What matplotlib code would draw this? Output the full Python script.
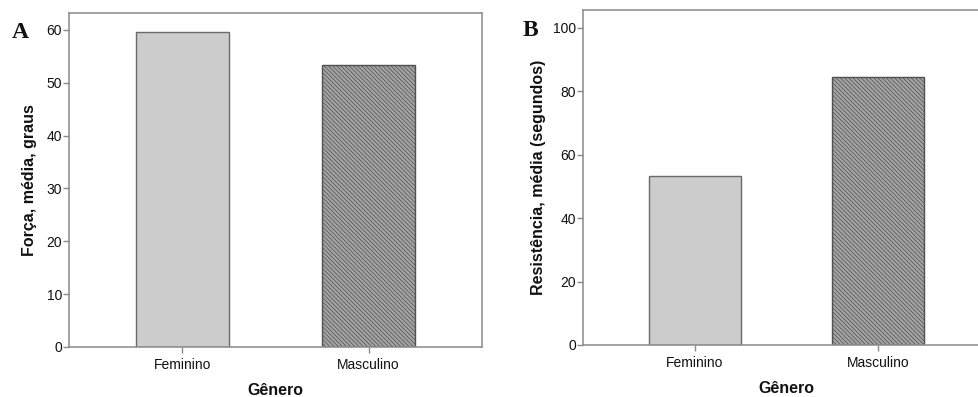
import matplotlib
matplotlib.use("Agg")
import matplotlib.pyplot as plt

plt.rcParams['font.family'] = ['Liberation Sans', 'DejaVu Sans']
plt.rcParams['hatch.linewidth'] = 0.5

generos = ["Feminino", "Masculino"]
forca = [59.6, 53.3]
resistencia = [53.3, 84.4]
ticks_a = [0, 10, 20, 30, 40, 50, 60]
ticks_b = [0, 20, 40, 60, 80, 100]

W, H = 979, 397
fig = plt.figure(figsize=(W / 100, H / 100), dpi=100)

def px_axes(l, t, r, b):
    return fig.add_axes([l / W, 1 - b / H, (r - l) / W, (b - t) / H])

ax1 = px_axes(69, 13, 482, 347)
ax2 = px_axes(583, 10, 990, 345)

spine_c = '#8a8a8a'

def estilo(ax, vals, ylim, yticks, ylabel):
    pos = list(range(len(generos)))
    b = ax.bar(pos, vals, width=0.5, color=['#cccccc', '#a4a4a4'],
               edgecolor=['#6a6a6a', '#505050'], linewidth=1.0, zorder=2)
    b[1].set_hatch('\\' * 8)
    ax.set_xlim(-0.61, 1.61)
    ax.set_ylim(*ylim)
    ax.set_yticks(yticks)
    ax.set_xticks(pos)
    ax.set_xticklabels(generos)
    for s in ax.spines.values():
        s.set_color(spine_c)
        s.set_linewidth(1.1)
    ax.tick_params(axis='both', colors=spine_c, labelcolor='#111111',
                   labelsize=10, length=4, width=1.0)
    ax.tick_params(axis='x', pad=4)
    ax.tick_params(axis='y', pad=1)
    ax.set_ylabel(ylabel, fontsize=11.5, fontweight='bold', color='#111111')
    ax.set_xlabel("Gênero", fontsize=11.5, fontweight='bold', color='#111111',
                  labelpad=8)

estilo(ax1, forca, (0, 63.2), ticks_a, "Força, média, graus")
estilo(ax2, resistencia, (0, 105.6), ticks_b, "Resistência, média (segundos)")
ax1.yaxis.set_label_coords(-0.077, 0.5)
ax2.yaxis.set_label_coords(-0.092, 0.5)

fig.text(20 / W, 1 - 32 / H, "A", family='Liberation Serif', fontweight='bold',
         fontsize=17, ha='center', va='center', color='#111111')
fig.text(530 / W, 1 - 30 / H, "B", family='Liberation Serif', fontweight='bold',
         fontsize=17, ha='center', va='center', color='#111111')

fig.savefig("out.png", dpi=100)
